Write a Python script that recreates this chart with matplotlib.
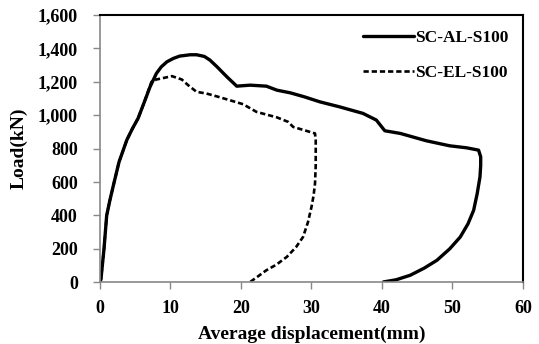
import matplotlib
matplotlib.use("Agg")
import matplotlib.pyplot as plt
from matplotlib.ticker import FuncFormatter

# SC-AL-S100 (solid)
al_x = [0.0, 0.14, 0.57, 0.95, 1.4, 1.9, 2.7, 3.8, 4.6, 5.4, 6.3, 7.1, 8.0, 8.7, 9.5, 10.4, 11.3,
        12.8, 13.7, 14.8, 15.6, 16.6, 18.0, 19.4, 21.3, 23.6, 25.1, 27.0, 29.0, 31.2, 34.0, 37.3,
        39.2, 40.4, 42.6, 46.3, 49.6, 52.0, 53.7, 54.0, 54.0, 53.9, 53.5, 53.0, 52.2, 51.1, 49.6,
        47.8, 46.0, 44.0, 42.0, 40.2]
al_y = [0, 20, 200, 400, 490, 580, 720, 851, 920, 981, 1080, 1170, 1250, 1290, 1320, 1340, 1354,
        1362, 1362, 1352, 1330, 1290, 1230, 1174, 1180, 1174, 1150, 1134, 1110, 1080, 1050, 1011,
        971, 907, 891, 847, 817, 805, 791, 751, 700, 631, 530, 431, 350, 271, 200,
        132, 85, 42, 15, 2]

# SC-EL-S100 (dashed)
el_x = [0.0, 0.14, 0.57, 0.95, 1.4, 1.9, 2.7, 3.8, 4.6, 5.4, 6.3, 7.3, 8.0, 8.7, 10.2, 11.6, 12.5,
        13.7, 15.1, 16.8, 18.4, 20.3, 22.2, 25.1, 26.7, 27.4, 29.0, 30.5, 30.6, 30.6, 30.5, 30.3,
        30.0, 29.5, 28.8, 27.8, 26.5, 25.0, 23.6, 22.4, 21.3]
el_y = [0, 20, 200, 400, 490, 580, 720, 851, 920, 981, 1080, 1200, 1214, 1220, 1234, 1214, 1180,
        1140, 1130, 1110, 1090, 1066, 1020, 987, 960, 930, 910, 891, 850, 700, 591, 520,
        451, 360, 271, 210, 152, 105, 72, 35, 2]

series_labels = ["SC-AL-S100", "SC-EL-S100"]
x_ticks = [0, 10, 20, 30, 40, 50, 60]
y_ticks = [0, 200, 400, 600, 800, 1000, 1200, 1400, 1600]

plt.rcParams['font.family'] = ['Liberation Serif', 'DejaVu Serif']
plt.rcParams['font.weight'] = 'bold'

fig = plt.figure(figsize=(5.39, 3.44), dpi=100)
ax = fig.add_axes([0.1855, 0.1794, 0.9703 - 0.1855, 0.9564 - 0.1794])

ax.plot(al_x, al_y, color='black', lw=2.4, solid_capstyle='round', label=series_labels[0])
ax.plot(el_x, el_y, color='black', lw=1.9, linestyle=(0, (2.0, 1.1)), label=series_labels[1])

ax.set_xlim(0, 60)
ax.set_ylim(0, 1600)
ax.set_xticks(x_ticks)
ax.set_yticks(y_ticks)
ax.yaxis.set_major_formatter(FuncFormatter(lambda v, p: f"{int(v):,}"))

for side in ['left', 'bottom']:
    ax.spines[side].set_color('#888888')
    ax.spines[side].set_linewidth(1.2)
for side in ['top', 'right']:
    ax.spines[side].set_color('black')
    ax.spines[side].set_linewidth(1.5)

ax.tick_params(axis='both', direction='out', length=5, width=1, color='#888888',
               labelsize=13)
ax.tick_params(axis='y', pad=11)
ax.tick_params(axis='x', pad=8)
for lab in ax.get_xticklabels() + ax.get_yticklabels():
    lab.set_fontweight('bold')

ax.set_xlabel("Average displacement(mm)", fontsize=14, fontweight='bold', labelpad=6)
ax.set_ylabel("Load(kN)", fontsize=14, fontweight='bold', labelpad=7)

leg = ax.legend(loc='upper right', frameon=False, fontsize=12.5, handlelength=2.9,
                handletextpad=0.1, labelspacing=1.1, borderaxespad=0.3,
                bbox_to_anchor=(0.995, 0.99))
for t in leg.get_texts():
    t.set_fontweight('bold')

fig.savefig("out.png", dpi=100)
